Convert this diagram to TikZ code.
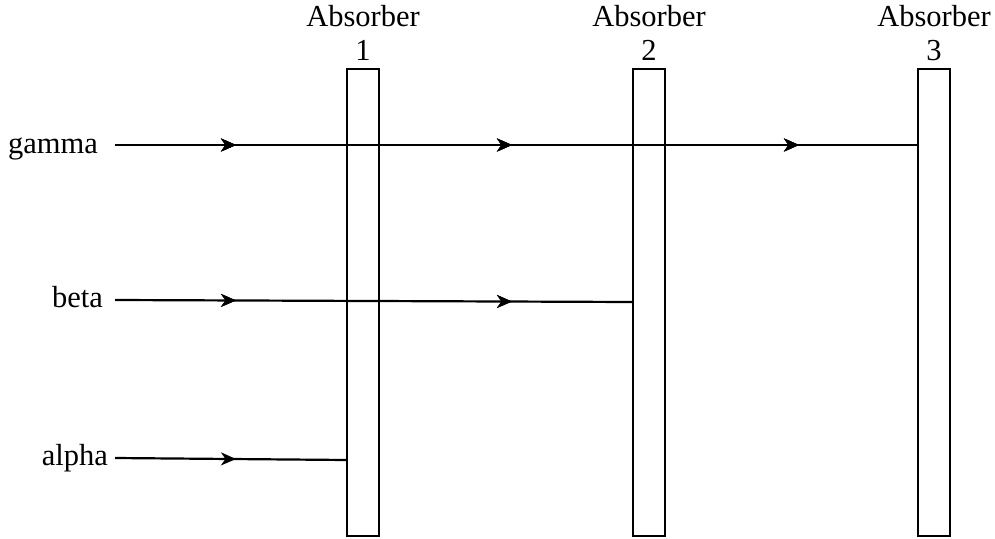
\documentclass[tikz,border=0pt]{standalone}
\usepackage{fontspec}
\setmainfont{Liberation Serif}
\usetikzlibrary{arrows.meta,decorations.markings}
\begin{document}
\begin{tikzpicture}[x=1pt,y=-1pt,
  absorber/.style={draw,line width=2pt,rectangle,minimum width=32pt,minimum height=467pt,inner sep=0pt},
  lbl/.style={font=\fontsize{30.5}{34}\selectfont,inner sep=0pt},
  ray/.style={line width=2.2pt},
  arrowat/.style={postaction={decorate},decoration={markings,mark=at position #1 with {\arrow{Stealth[length=15pt,width=13pt,inset=4.5pt]}}}}
]
\useasboundingbox (0,0) rectangle (995,538);
% absorbers
\node[absorber] (b1) at (363,302.5) {};
\node[absorber] (b2) at (649,302.5) {};
\node[absorber] (b3) at (934,302.5) {};
\node[lbl,align=center,anchor=south] (l1) at ([yshift=7pt]b1.north) {Absorber\\1};
\node[lbl,align=center,anchor=south] (l2) at ([yshift=7pt]b2.north) {Absorber\\2};
\node[lbl,align=center,anchor=south] (l3) at ([yshift=7pt]b3.north) {Absorber\\3};
% ray labels
\node[lbl,anchor=base east] (g) at (98,153) {gamma};
\node[lbl,anchor=base east] (be) at (103,307) {beta};
\node[lbl,anchor=base east] (al) at (108,465) {alpha};
\coordinate (gs) at (115,145);
\coordinate (bs) at (115,300);
\coordinate (as) at (115,458);
\coordinate (be2) at (633,302);
\coordinate (ae) at (347,460);
% rays
\draw[ray,arrowat=121pt,arrowat=397pt,arrowat=684pt] (gs) -- (gs -| b3.west);
\draw[ray,arrowat=121pt,arrowat=397pt] (bs) -- (be2);
\draw[ray,arrowat=121pt] (as) -- (ae);
\end{tikzpicture}
\end{document}
